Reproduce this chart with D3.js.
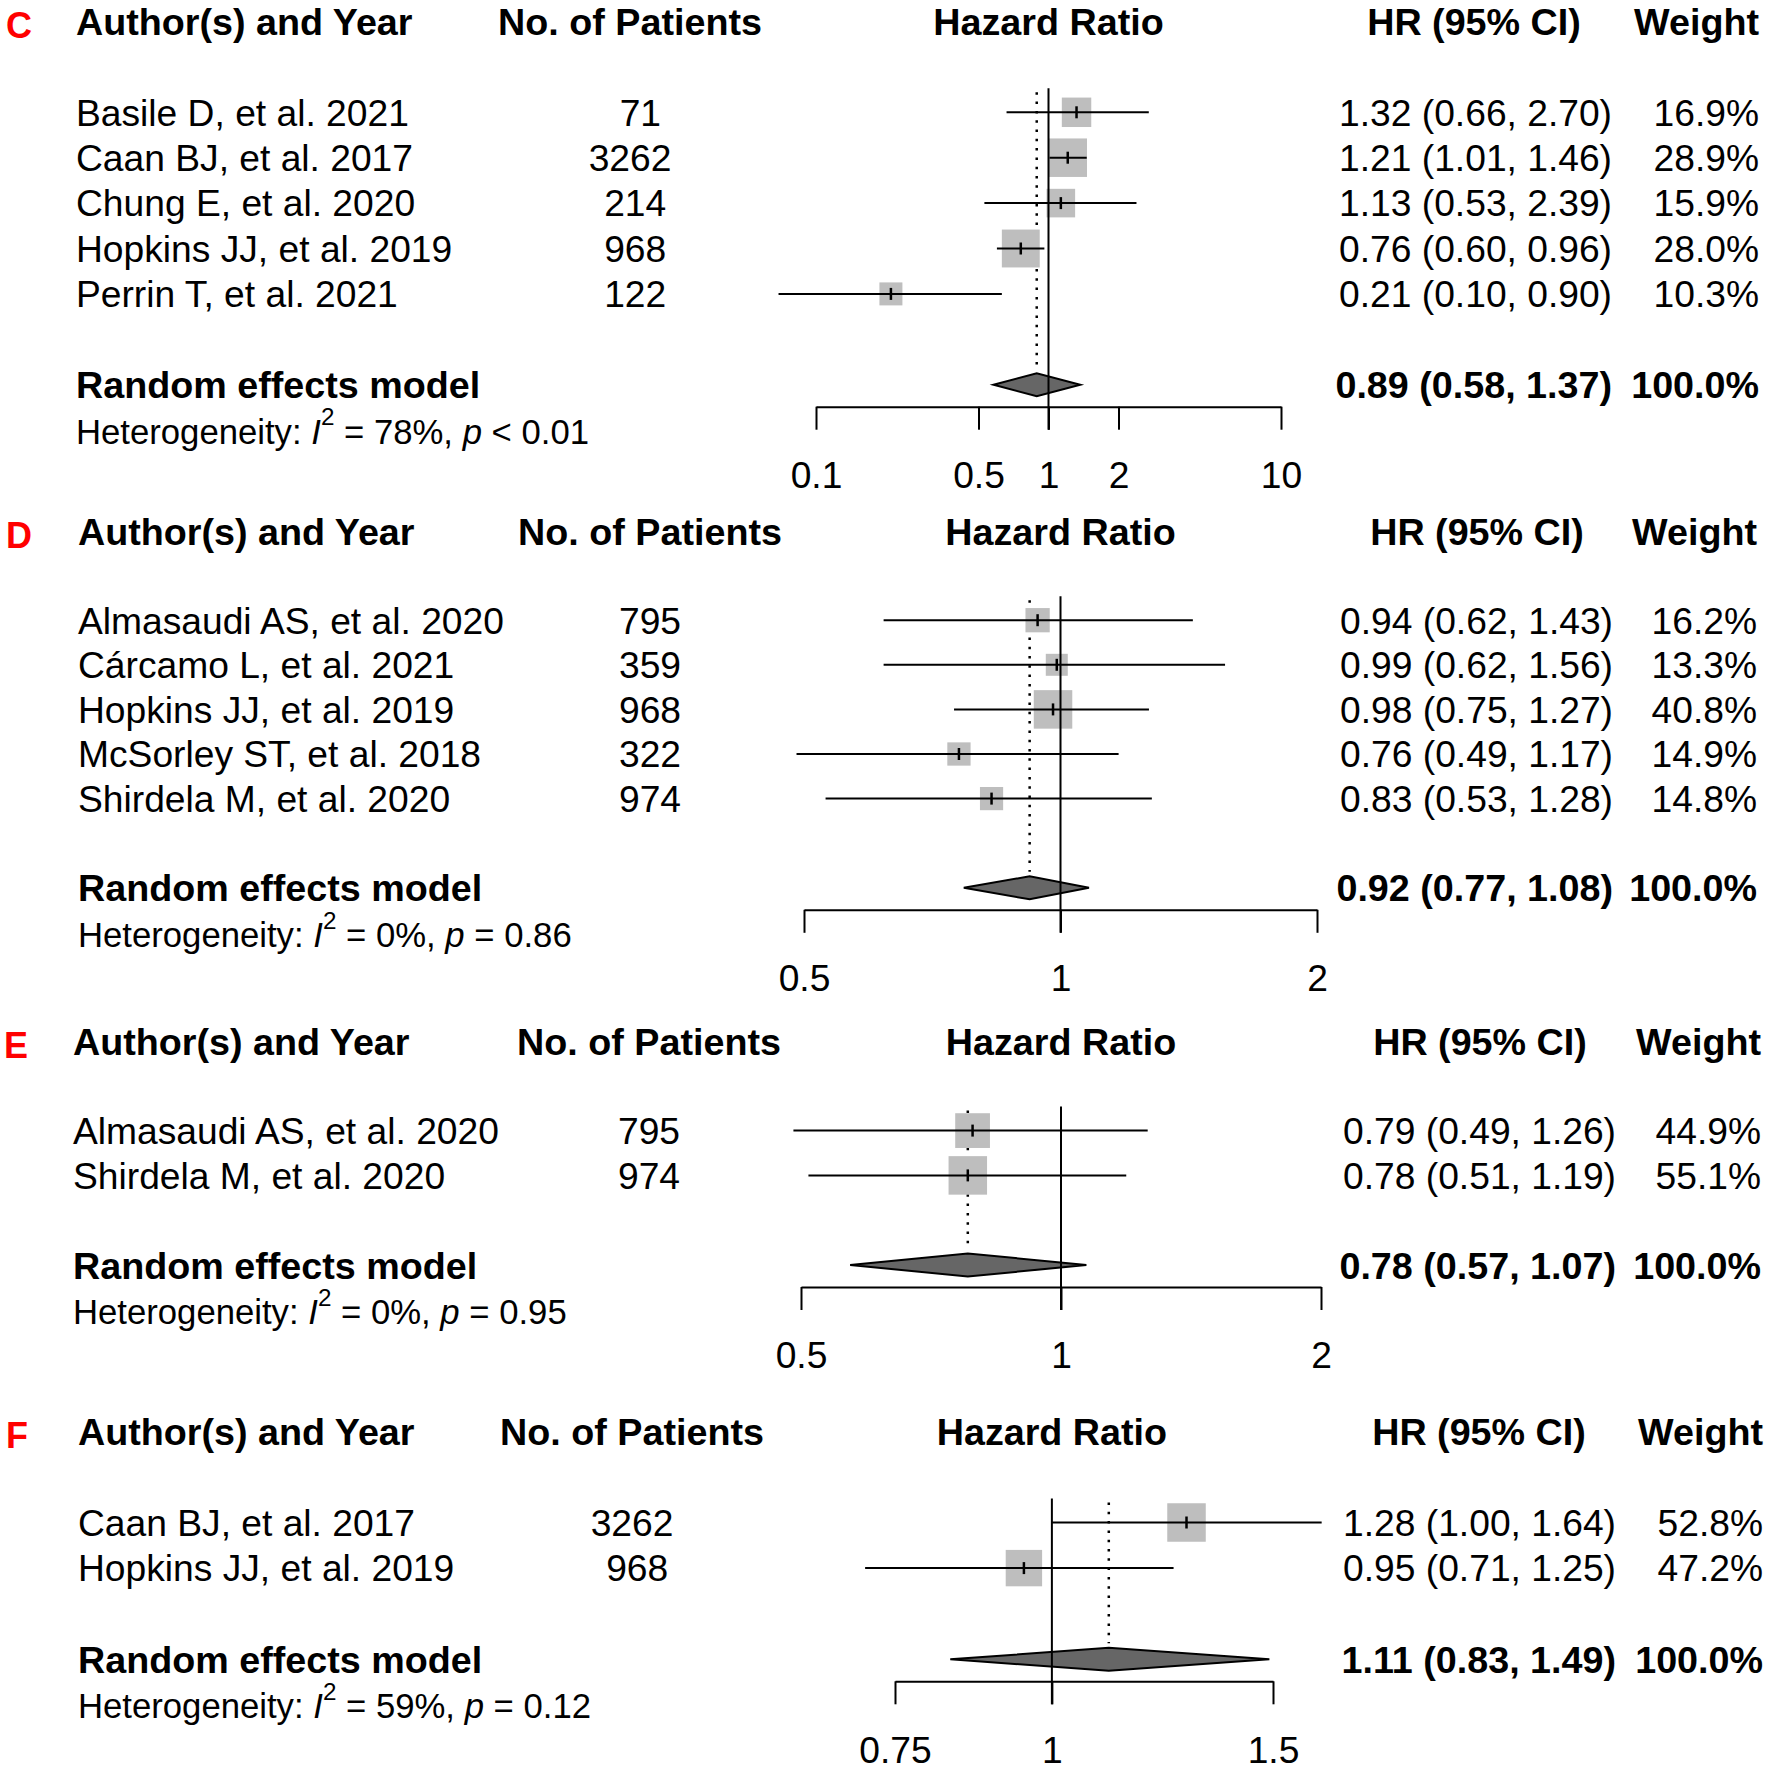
<!DOCTYPE html>
<html>
<head>
<meta charset="utf-8">
<script src="https://cdn.jsdelivr.net/npm/d3@7"></script>
<style>
  html, body { margin: 0; padding: 0; background: #fff; }
  svg { display: block; font-family: "Liberation Sans", Arial, Helvetica, sans-serif; }
  text { white-space: pre; }
</style>
</head>
<body>
<svg id="chart" width="1770" height="1770"></svg>
<script>
// ---------------- DATA ----------------
// Panel C
const studiesC   = ["Basile D, et al. 2021", "Caan BJ, et al. 2017", "Chung E, et al. 2020", "Hopkins JJ, et al. 2019", "Perrin T, et al. 2021"];
const patientsC  = ["71", "3262", "214", "968", "122"];
const hrC        = [1.32, 1.21, 1.13, 0.76, 0.21];
const lowerC     = [0.66, 1.01, 0.53, 0.60, 0.069];
const upperC     = [2.70, 1.46, 2.39, 0.96, 0.63];
const ciLabelsC  = ["1.32 (0.66, 2.70)", "1.21 (1.01, 1.46)", "1.13 (0.53, 2.39)", "0.76 (0.60, 0.96)", "0.21 (0.10, 0.90)"];
const weightsC   = [16.9, 28.9, 15.9, 28.0, 10.3];
const summaryC   = [0.89, 0.58, 1.37];
const summaryLabelC = "0.89 (0.58, 1.37)";
const hetC       = ["78%", "<", "0.01"];
const ticksC     = [0.1, 0.5, 1, 2, 10];
const tickLabelsC = ["0.1", "0.5", "1", "2", "10"];

// Panel D
const studiesD   = ["Almasaudi AS, et al. 2020", "Cárcamo L, et al. 2021", "Hopkins JJ, et al. 2019", "McSorley ST, et al. 2018", "Shirdela M, et al. 2020"];
const patientsD  = ["795", "359", "968", "322", "974"];
const hrD        = [0.94, 0.99, 0.98, 0.76, 0.83];
const lowerD     = [0.62, 0.62, 0.75, 0.49, 0.53];
const upperD     = [1.43, 1.56, 1.27, 1.17, 1.28];
const ciLabelsD  = ["0.94 (0.62, 1.43)", "0.99 (0.62, 1.56)", "0.98 (0.75, 1.27)", "0.76 (0.49, 1.17)", "0.83 (0.53, 1.28)"];
const weightsD   = [16.2, 13.3, 40.8, 14.9, 14.8];
const summaryD   = [0.92, 0.77, 1.08];
const summaryLabelD = "0.92 (0.77, 1.08)";
const hetD       = ["0%", "=", "0.86"];
const ticksD     = [0.5, 1, 2];
const tickLabelsD = ["0.5", "1", "2"];

// Panel E
const studiesE   = ["Almasaudi AS, et al. 2020", "Shirdela M, et al. 2020"];
const patientsE  = ["795", "974"];
const hrE        = [0.79, 0.78];
const lowerE     = [0.49, 0.51];
const upperE     = [1.26, 1.19];
const ciLabelsE  = ["0.79 (0.49, 1.26)", "0.78 (0.51, 1.19)"];
const weightsE   = [44.9, 55.1];
const summaryE   = [0.78, 0.57, 1.07];
const summaryLabelE = "0.78 (0.57, 1.07)";
const hetE       = ["0%", "=", "0.95"];
const ticksE     = [0.5, 1, 2];
const tickLabelsE = ["0.5", "1", "2"];

// Panel F
const studiesF   = ["Caan BJ, et al. 2017", "Hopkins JJ, et al. 2019"];
const patientsF  = ["3262", "968"];
const hrF        = [1.28, 0.95];
const lowerF     = [1.00, 0.71];
const upperF     = [1.64, 1.25];
const ciLabelsF  = ["1.28 (1.00, 1.64)", "0.95 (0.71, 1.25)"];
const weightsF   = [52.8, 47.2];
const summaryF   = [1.11, 0.83, 1.49];
const summaryLabelF = "1.11 (0.83, 1.49)";
const hetF       = ["59%", "=", "0.12"];
const ticksF     = [0.75, 1, 1.5];
const tickLabelsF = ["0.75", "1", "1.5"];

const panelLetters = ["C", "D", "E", "F"];
const headers = ["Author(s) and Year", "No. of Patients", "Hazard Ratio", "HR (95% CI)", "Weight"];
const summaryName = "Random effects model";

// ---------------- LAYOUT ----------------
const layouts = [
  { headerY: 21.5,  rowH: 45.4, letterX: 6, authorX: 76, patX: 630, range: [816, 1281], hrRight: 1612, hrHead: 1474, wRight: 1759 },
  { headerY: 531,   rowH: 44.6, letterX: 6, authorX: 78, patX: 650, range: [804, 1317], hrRight: 1613, hrHead: 1477, wRight: 1757 },
  { headerY: 1041,  rowH: 44.8, letterX: 4, authorX: 73, patX: 649, range: [801, 1321], hrRight: 1616, hrHead: 1480, wRight: 1761 },
  { headerY: 1431.3,rowH: 45.6, letterX: 6, authorX: 78, patX: 632, range: [895, 1273], hrRight: 1616, hrHead: 1479, wRight: 1763 }
];

const panels = [
  { studies: studiesC, patients: patientsC, hr: hrC, lower: lowerC, upper: upperC, ci: ciLabelsC, w: weightsC, sum: summaryC, sumLabel: summaryLabelC, het: hetC, ticks: ticksC, tickLabels: tickLabelsC },
  { studies: studiesD, patients: patientsD, hr: hrD, lower: lowerD, upper: upperD, ci: ciLabelsD, w: weightsD, sum: summaryD, sumLabel: summaryLabelD, het: hetD, ticks: ticksD, tickLabels: tickLabelsD },
  { studies: studiesE, patients: patientsE, hr: hrE, lower: lowerE, upper: upperE, ci: ciLabelsE, w: weightsE, sum: summaryE, sumLabel: summaryLabelE, het: hetE, ticks: ticksE, tickLabels: tickLabelsE },
  { studies: studiesF, patients: patientsF, hr: hrF, lower: lowerF, upper: upperF, ci: ciLabelsF, w: weightsF, sum: summaryF, sumLabel: summaryLabelF, het: hetF, ticks: ticksF, tickLabels: tickLabelsF }
];

const FS = 37.2;      // main font size
const FSB = 37.7;     // bold font size
const HET_FS = 34.7;  // heterogeneity font size
const svg = d3.select("#chart");

function txt(g, x, y, s, opts = {}) {
  return g.append("text")
    .attr("x", x).attr("y", y).attr("dy", "0.36em")
    .attr("font-size", opts.size || (opts.bold ? FSB : FS))
    .attr("font-weight", opts.bold ? "bold" : "normal")
    .attr("text-anchor", opts.anchor || "start")
    .attr("fill", opts.fill || "#000")
    .text(s);
}

panels.forEach((p, pi) => {
  const L = layouts[pi];
  const g = svg.append("g");
  const n = p.studies.length;
  const rowY = i => L.headerY + (i + 2) * L.rowH;
  const sumY = L.headerY + (n + 3) * L.rowH;
  const hetY = sumY + 46.5;
  const axisY = sumY + 22;
  const refTop = rowY(0) - 24;

  const x = d3.scaleLog().domain([p.ticks[0], p.ticks[p.ticks.length - 1]]).range(L.range);
  const size = d3.scaleSqrt().domain([0, d3.max(p.w)]).range([0, 38.5]);
  const pad = d3.max(p.patients, s => s.length);

  // headers
  txt(g, L.letterX, L.headerY + 4, panelLetters[pi], { bold: true, fill: "#ff0000", size: 36 });
  txt(g, L.authorX, L.headerY, headers[0], { bold: true });
  txt(g, L.patX, L.headerY, headers[1], { bold: true, anchor: "middle" });
  txt(g, x(1), L.headerY, headers[2], { bold: true, anchor: "middle" });
  txt(g, L.hrHead, L.headerY, headers[3], { bold: true, anchor: "middle" });
  txt(g, L.wRight, L.headerY, headers[4], { bold: true, anchor: "end" });

  // study rows text
  p.studies.forEach((s, i) => {
    const y = rowY(i);
    txt(g, L.authorX, y, s);
    txt(g, L.patX, y, p.patients[i].padStart(pad, " "), { anchor: "middle" });
    txt(g, L.hrRight, y, p.ci[i], { anchor: "end" });
    txt(g, L.wRight, y, d3.format(".1f")(p.w[i]) + "%", { anchor: "end" });
  });

  // summary row text
  txt(g, L.authorX, sumY, summaryName, { bold: true });
  txt(g, L.hrRight, sumY, p.sumLabel, { bold: true, anchor: "end" });
  txt(g, L.wRight, sumY, "100.0%", { bold: true, anchor: "end" });

  // heterogeneity
  const ht = g.append("text").attr("x", L.authorX).attr("y", hetY).attr("dy", "0.36em")
    .attr("font-size", HET_FS).attr("fill", "#000");
  ht.append("tspan").text("Heterogeneity: ");
  ht.append("tspan").attr("font-style", "italic").text("I");
  ht.append("tspan").attr("font-size", HET_FS * 0.7).attr("dy", "-0.75em").text("2");
  ht.append("tspan").attr("dy", "0.525em").text(" = " + p.het[0] + ", ");
  ht.append("tspan").attr("font-style", "italic").text("p");
  ht.append("tspan").text(" " + p.het[1] + " " + p.het[2]);

  // dotted line at summary estimate
  g.append("line")
    .attr("x1", x(p.sum[0])).attr("x2", x(p.sum[0]))
    .attr("y1", refTop + 4).attr("y2", sumY - 16)
    .attr("stroke", "#000").attr("stroke-width", 2.5)
    .attr("stroke-dasharray", "2.5,6.8");

  // squares
  g.selectAll("rect.sq").data(p.hr).join("rect").attr("class", "sq")
    .attr("x", (d, i) => x(d) - size(p.w[i]) / 2)
    .attr("y", (d, i) => rowY(i) - size(p.w[i]) / 2)
    .attr("width", (d, i) => size(p.w[i]))
    .attr("height", (d, i) => size(p.w[i]))
    .attr("fill", "#bebebe");

  // CI lines
  g.selectAll("line.ci").data(p.hr).join("line").attr("class", "ci")
    .attr("x1", (d, i) => x(p.lower[i])).attr("x2", (d, i) => x(p.upper[i]))
    .attr("y1", (d, i) => rowY(i)).attr("y2", (d, i) => rowY(i))
    .attr("stroke", "#000").attr("stroke-width", 2);

  // estimate ticks
  g.selectAll("line.est").data(p.hr).join("line").attr("class", "est")
    .attr("x1", d => x(d)).attr("x2", d => x(d))
    .attr("y1", (d, i) => rowY(i) - 6).attr("y2", (d, i) => rowY(i) + 6)
    .attr("stroke", "#000").attr("stroke-width", 2.5);

  // diamond
  const dh = 11.5;
  g.append("polygon")
    .attr("points", [
      [x(p.sum[1]), sumY], [x(p.sum[0]), sumY - dh], [x(p.sum[2]), sumY], [x(p.sum[0]), sumY + dh]
    ].map(q => q.join(",")).join(" "))
    .attr("fill", "#666666").attr("stroke", "#000").attr("stroke-width", 2);

  // reference line at 1
  g.append("line")
    .attr("x1", x(1)).attr("x2", x(1))
    .attr("y1", refTop).attr("y2", axisY + 23)
    .attr("stroke", "#000").attr("stroke-width", 2);

  // axis
  const axis = d3.axisBottom(x)
    .tickValues(p.ticks)
    .tickFormat((d, i) => p.tickLabels[i])
    .tickSize(23).tickSizeOuter(0).tickPadding(32);
  const ag = g.append("g").attr("transform", `translate(0,${axisY})`).call(axis);
  ag.attr("font-family", null).attr("font-size", null);
  ag.select(".domain").attr("stroke", "#000").attr("stroke-width", 2);
  ag.selectAll(".tick line").attr("stroke", "#000").attr("stroke-width", 2);
  ag.selectAll(".tick text").attr("font-size", FS).attr("fill", "#000");
});
</script>
</body>
</html>
